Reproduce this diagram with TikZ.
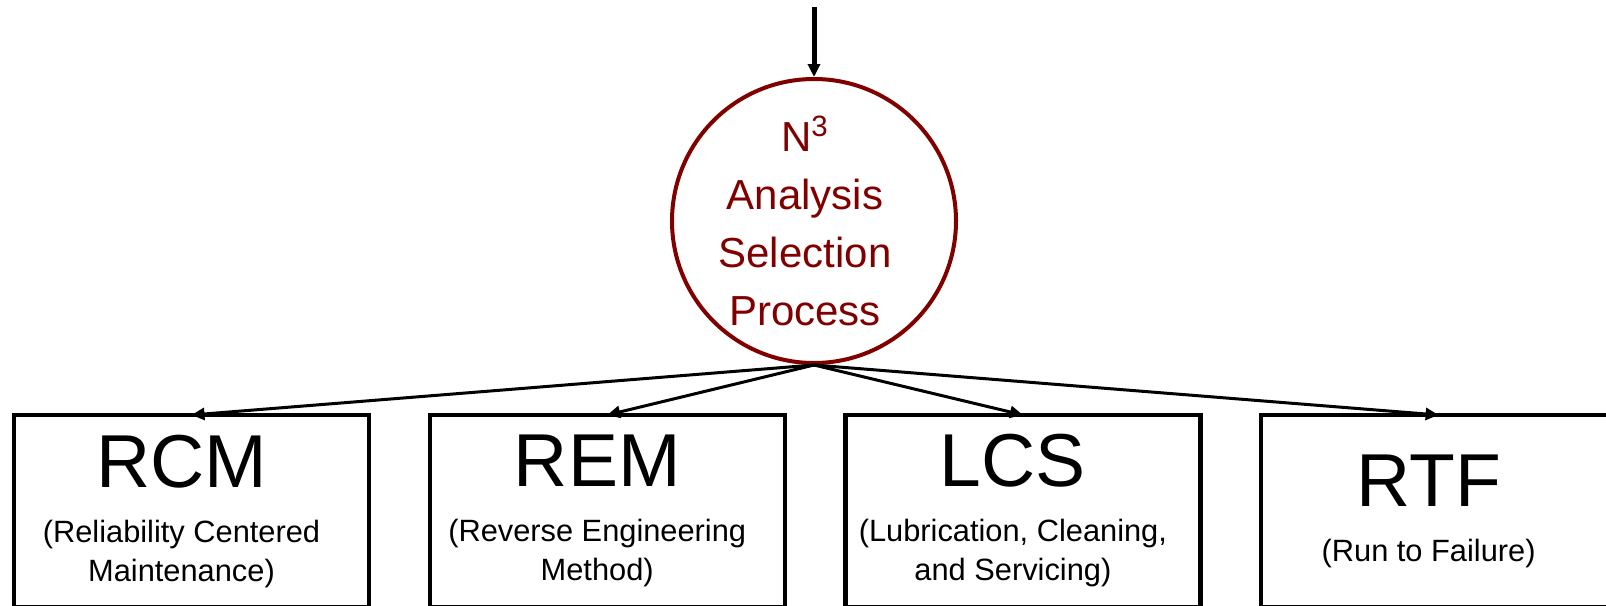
\documentclass[tikz,border=0pt]{standalone}
\usepackage{fontspec}
\setmainfont{Liberation Sans}
\usetikzlibrary{positioning,arrows.meta}

\definecolor{selred}{RGB}{128,0,0}
\tikzset{
	methodbox/.style={draw, line width=2.2pt, minimum width=177.5pt, minimum height=96pt,
		inner sep=0pt, outer sep=0pt},
	methodtext/.style={align=center, inner sep=0pt, font=\fontsize{15.4}{19.5}\selectfont},
	selcircle/.style={circle, draw=selred, line width=2pt, minimum size=142pt, inner sep=0pt},
	seltext/.style={text=selred, align=center, inner sep=0pt, font=\fontsize{21}{29}\selectfont},
	toarrow/.style={-{Triangle[length=6.5pt,width=6pt]}, line width=1.5pt},
}
\newcommand{\abbrtext}[1]{{\fontsize{37.5}{37.5}\selectfont #1}}

\begin{document}
\begin{tikzpicture}[x=0.5pt,y=-0.5pt]
		\clip (0,0) rectangle (1606,605);
		\useasboundingbox (0,0) rectangle (1606,605);

		\coordinate (in) at (814,7);
		\node[selcircle] (sel) at (814,221) {};
		\node[seltext] (sel-txt) at ([xshift=-4.5pt]sel.center) {N\textsuperscript{3}\\Analysis\\Selection\\Process};

		% methods
		\node[methodbox] (rcm) at (191.5,511) {};
		\node[methodbox, right=30.35pt of rcm] (rem) {};
		\node[methodbox, right=30.35pt of rem] (lcs) {};
		\node[methodbox, right=30.35pt of lcs] (rtf) {};

		\node[methodtext] (rcm-txt) at ([xshift=-5pt]rcm.center) {\abbrtext{RCM}\\[8pt](Reliability Centered\\Maintenance)};
		\node[methodtext] (rem-txt) at ([xshift=-5pt]rem.center) {\abbrtext{REM}\\[8pt](Reverse Engineering\\Method)};
		\node[methodtext] (lcs-txt) at ([xshift=-5pt]lcs.center) {\abbrtext{LCS}\\[8pt](Lubrication, Cleaning,\\and Servicing)};
		\node[methodtext] (rtf-txt) at ([xshift=-5pt]rtf.center) {\abbrtext{RTF}\\[8pt](Run to Failure)};

		\draw[toarrow, line width=2.5pt] (in) -- (sel);
		\foreach \b in {rcm, rem, lcs, rtf}
			\draw[toarrow] (sel.south) -- (\b.north);
	\end{tikzpicture}
\end{document}
